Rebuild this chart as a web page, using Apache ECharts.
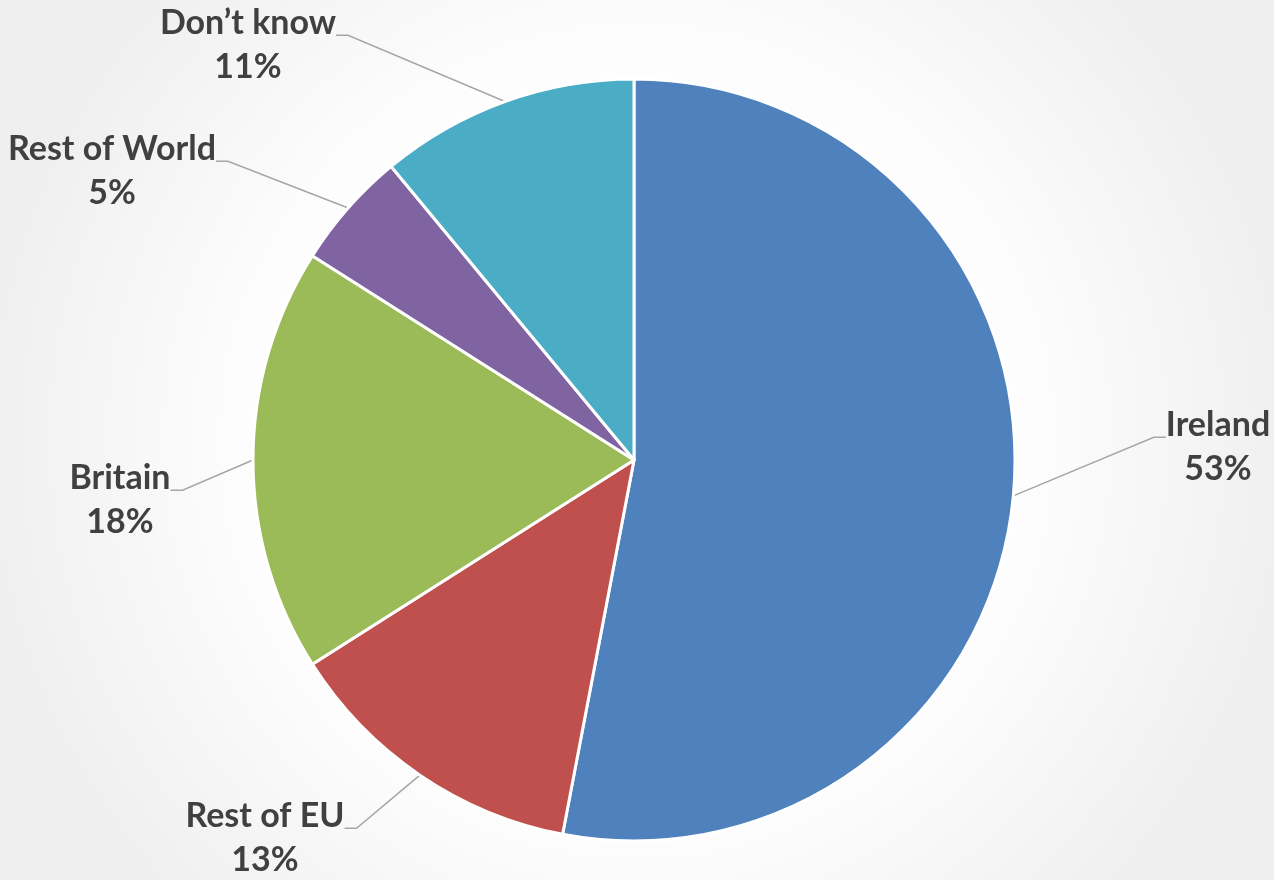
<!DOCTYPE html>
<html>
<head>
<meta charset="utf-8">
<script src="https://cdn.jsdelivr.net/npm/echarts@6/dist/echarts.min.js"></script>
<style>
  html, body { margin: 0; padding: 0; }
  #chart { width: 1274px; height: 880px; }
</style>
</head>
<body>
<div id="chart"></div>
<script>
// Survey shares (percent), clockwise from 12 o'clock
const categories = ['Ireland', 'Rest of EU', 'Britain', 'Rest of World', 'Don\u2019t know'];
const shares = [53, 13, 18, 5, 11];
const sliceColors = ['#4F81BD', '#C0504D', '#9BBB59', '#8064A2', '#4BACC6'];

// Where each callout sits: horizontal centre of the text block, and the height
// at which its leader line meets the first text line
const calloutX = [1218, 265, 120, 112, 248];
const calloutY = [437, 828, 490, 161, 35];

const chart = echarts.init(document.getElementById('chart'), null, { renderer: 'canvas' });

const data = categories.map((name, i) => ({
  name: name,
  value: shares[i],
  itemStyle: { color: sliceColors[i] }
}));

const textStyle = {
  fontFamily: 'Lato', fontWeight: 'bold', fontSize: 34, lineHeight: 44,
  color: '#404040', align: 'center'
};

chart.setOption({
  backgroundColor: {
    type: 'radial', x: 0.5, y: 0.5, r: 0.75,
    colorStops: [
      { offset: 0, color: '#ffffff' },
      { offset: 0.6, color: '#fdfdfd' },
      { offset: 1, color: '#efefef' }
    ]
  },
  animation: false,
  series: [{
    type: 'pie',
    center: [634, 460],
    radius: 381,
    startAngle: 90,
    clockwise: true,
    avoidLabelOverlap: false,
    itemStyle: { borderColor: '#ffffff', borderWidth: 3 },
    emphasis: { disabled: true },
    label: {
      show: true,
      position: 'outside',
      formatter: p => '{s| }\n{n|' + p.name + '}\n{v|' + p.value + '%}',
      rich: {
        s: { lineHeight: 21, fontSize: 10, align: 'center' },
        n: textStyle,
        v: textStyle
      }
    },
    labelLine: {
      show: true,
      length: 20,
      length2: 12,
      smooth: false,
      lineStyle: { color: '#a6a6a6', width: 1.5 }
    },
    labelLayout: function (params) {
      const i = params.dataIndex;
      return {
        x: calloutX[i],
        y: calloutY[i],
        align: 'center',
        verticalAlign: 'middle'
      };
    },
    data: data
  }]
});
</script>
</body>
</html>
